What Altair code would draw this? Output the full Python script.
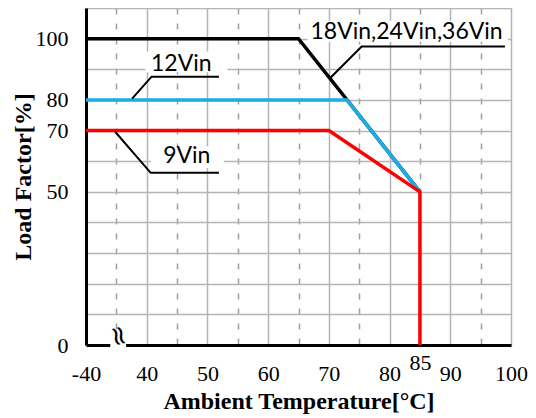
import altair as alt
import pandas as pd

# ---- data ----
series_names = ["18Vin,24Vin,36Vin", "12Vin", "9Vin"]
series_x = [[30, 65, 85], [30, 73, 85], [30, 70, 85, 85]]
series_y = [[100, 100, 50], [80, 80, 50], [70, 70, 50, 0]]
series_colors = ["#000000", "#1AAEE8", "#FF0000"]

x_ticks = [30, 35, 40, 45, 50, 55, 60, 65, 70, 75, 80, 85, 90, 95, 100]
y_ticks = [0, 10, 20, 30, 40, 50, 60, 70, 80, 90, 100, 110]

ann_text = ["18Vin,24Vin,36Vin", "12Vin", "9Vin"]
ann_x = [82.8, 45.7, 46.6]
ann_y = [102.3, 91.7, 61.6]

leader_x = [[70.1, 75.4, 99.0], [37.6, 40.8, 51.9], [34.8, 40.65, 51.9]]
leader_y = [[86.9, 97.4, 97.4], [80.4, 87.6, 87.6], [69.6, 56.2, 56.2]]

box_x = [66.5, 39.8, 40.65]
box_x2 = [99.5, 53.3, 52.7]
box_y = [99.0, 89.0, 57.8]
box_y2 = [105.8, 95.8, 64.8]

# ---- tables ----
rows = []
for i, (n, xs, ys) in enumerate(zip(series_names, series_x, series_y)):
    for j, (xv, yv) in enumerate(zip(xs, ys)):
        rows.append({"series": n, "s": i, "o": j, "x": xv, "y": yv})
lines_df = pd.DataFrame(rows)

lrows = []
for i, (xs, ys) in enumerate(zip(leader_x, leader_y)):
    for j, (xv, yv) in enumerate(zip(xs, ys)):
        lrows.append({"g": i, "o": j, "x": xv, "y": yv})
lead_df = pd.DataFrame(lrows)

ann_df = pd.DataFrame({"t": ann_text, "x": ann_x, "y": ann_y})
box_df = pd.DataFrame({"x": box_x, "x2": box_x2, "y": box_y, "y2": box_y2})
brk_df = pd.DataFrame({"x": [34.0], "x2": [36.6], "y": [-0.8], "y2": [0.8],
                       "tx": [35.3], "ty": [2.9], "t": ["≈"]})

xscale = alt.Scale(domain=[30, 100], nice=False, zero=False)
yscale = alt.Scale(domain=[0, 110], nice=False, zero=False)

x_axis = alt.Axis(
    values=x_ticks,
    title="Ambient Temperature[°C]",
    labelExpr="datum.value == 30 ? '-40' : ((datum.value % 10 == 0 || datum.value == 85) ? datum.label : '')",
    labelFont="Liberation Serif", labelFontSize=22, labelColor="#000000",
    labelBaseline="middle",
    labelPadding={"condition": {"test": "datum.value == 85", "value": 17}, "value": 28},
    labelFlush=False, labelOverlap=False, labelBound=False,
    ticks=False,
    domainColor="#000000", domainWidth=3,
    grid=True,
    gridColor={"condition": {"test": "datum.value % 10 == 5", "value": "#A0A0A0"}, "value": "#B4B4B4"},
    gridDash={"condition": {"test": "datum.value % 10 == 5", "value": [6, 9]}, "value": []},
    gridWidth=1.5,
    titleFont="Liberation Serif", titleFontSize=24, titleFontWeight="bold", titleColor="#000000",
    titleBaseline="middle", titleAlign="center", titleX=212.5, titleY=56,
)
y_axis = alt.Axis(
    values=y_ticks,
    title="Load Factor[%]",
    labelExpr="(datum.value == 0 || datum.value == 50 || datum.value == 70 || datum.value == 80 || datum.value == 100) ? datum.label : ''",
    labelFont="Liberation Serif", labelFontSize=22, labelColor="#000000",
    labelPadding=18, labelOverlap=False, labelFlush=False,
    ticks=False,
    domainColor="#000000", domainWidth=3,
    grid=True, gridColor="#B4B4B4", gridWidth=1.5,
    titleFont="Liberation Serif", titleFontSize=24, titleFontWeight="bold", titleColor="#000000",
    titleBaseline="middle", titleAlign="center", titleAngle=-90, titleX=-63, titleY=168.5,
)


def X(field):
    return alt.X(field, type="quantitative", scale=xscale, axis=x_axis)


def Y(field):
    return alt.Y(field, type="quantitative", scale=yscale, axis=y_axis)


base_lines = alt.Chart(lines_df).mark_line(strokeWidth=3.5, strokeCap="butt", strokeJoin="miter").encode(
    x=X("x"), y=Y("y"),
    color=alt.Color("series:N", scale=alt.Scale(domain=series_names, range=series_colors), legend=None),
    detail="s:N",
    order="o:Q",
)

boxes = alt.Chart(box_df).mark_rect(color="white").encode(
    x=X("x"), x2="x2:Q", y=Y("y"), y2="y2:Q",
)

leaders = alt.Chart(lead_df).mark_line(color="black", strokeWidth=2).encode(
    x=X("x"), y=Y("y"), detail="g:N", order="o:Q",
)

labels = alt.Chart(ann_df).mark_text(font="Lato", fontSize=23, color="black",
                                     align="center", baseline="middle").encode(
    x=X("x"), y=Y("y"), text="t:N",
)

brk_box = alt.Chart(brk_df).mark_rect(color="white").encode(
    x=X("x"), x2="x2:Q", y=Y("y"), y2="y2:Q",
)
brk_txt = alt.Chart(brk_df).mark_text(font="DejaVu Sans", fontSize=27, color="black", angle=75,
                                      align="center", baseline="middle").encode(
    x=X("tx"), y=Y("ty"), text="t:N",
)

chart = alt.layer(
    base_lines, boxes, labels, leaders, brk_box, brk_txt
).properties(
    width=425, height=337,
    autosize=alt.AutoSizeParams(type="none"),
    padding={"left": 78, "top": 0, "right": 17, "bottom": 70},
).configure_view(
    stroke="#B4B4B4", strokeWidth=1.5,
).configure(background="white")

chart.save("out.html", embed_options={"renderer": "svg", "actions": False})
